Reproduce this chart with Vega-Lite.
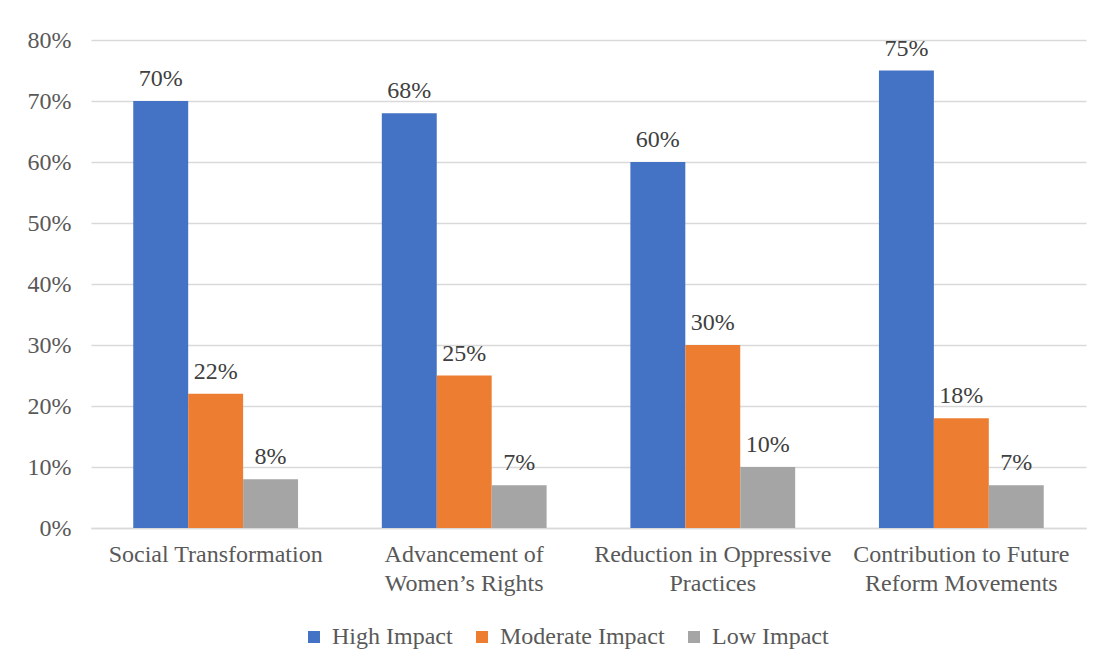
{
  "$schema": "https://vega.github.io/schema/vega-lite/v6.json",
  "autosize": {"type": "none"},
  "width": 995,
  "height": 488,
  "padding": {"left": 91, "top": 40, "right": 19, "bottom": 138},
  "background": "white",
  "config": {
    "view": {"stroke": null},
    "font": "Liberation Serif, Times New Roman, serif",
    "axis": {"labelFont": "Liberation Serif, Times New Roman, serif", "labelFontSize": 24, "labelColor": "#595959", "labelLimit": 0, "labelOverlap": false},
    "legend": {"labelFont": "Liberation Serif, Times New Roman, serif", "labelFontSize": 24, "labelColor": "#595959", "labelLimit": 0},
    "text": {"font": "Liberation Serif, Times New Roman, serif"}
  },
  "data": {
    "values": [
      {"category": "Social Transformation", "impact": "High Impact", "value": 0.70},
      {"category": "Social Transformation", "impact": "Moderate Impact", "value": 0.22},
      {"category": "Social Transformation", "impact": "Low Impact", "value": 0.08},
      {"category": "Advancement of Women’s Rights", "impact": "High Impact", "value": 0.68},
      {"category": "Advancement of Women’s Rights", "impact": "Moderate Impact", "value": 0.25},
      {"category": "Advancement of Women’s Rights", "impact": "Low Impact", "value": 0.07},
      {"category": "Reduction in Oppressive Practices", "impact": "High Impact", "value": 0.60},
      {"category": "Reduction in Oppressive Practices", "impact": "Moderate Impact", "value": 0.30},
      {"category": "Reduction in Oppressive Practices", "impact": "Low Impact", "value": 0.10},
      {"category": "Contribution to Future Reform Movements", "impact": "High Impact", "value": 0.75},
      {"category": "Contribution to Future Reform Movements", "impact": "Moderate Impact", "value": 0.18},
      {"category": "Contribution to Future Reform Movements", "impact": "Low Impact", "value": 0.07}
    ]
  },
  "encoding": {
    "x": {
      "field": "category",
      "type": "nominal",
      "sort": null,
      "scale": {"paddingInner": 0.337, "paddingOuter": 0.17},
      "axis": {
        "title": null,
        "labelAngle": 0,
        "ticks": false,
        "domainColor": "#D9D9D9",
        "domainWidth": 1.5,
        "labelPadding": 14,
        "labelLineHeight": 29,
        "labelExpr": "datum.value == 'Advancement of Women’s Rights' ? ['Advancement of', 'Women’s Rights'] : datum.value == 'Reduction in Oppressive Practices' ? ['Reduction in Oppressive', 'Practices'] : datum.value == 'Contribution to Future Reform Movements' ? ['Contribution to Future', 'Reform Movements'] : datum.value"
      }
    },
    "xOffset": {
      "field": "impact",
      "type": "nominal",
      "sort": ["High Impact", "Moderate Impact", "Low Impact"],
      "scale": {"paddingInner": 0, "paddingOuter": 0}
    },
    "y": {
      "field": "value",
      "type": "quantitative",
      "scale": {"domain": [0, 0.8]},
      "axis": {
        "title": null,
        "format": ".0%",
        "values": [0, 0.1, 0.2, 0.3, 0.4, 0.5, 0.6, 0.7, 0.8],
        "domain": false,
        "ticks": false,
        "labelPadding": 20,
        "gridColor": "#D9D9D9",
        "gridWidth": 1.5
      }
    }
  },
  "layer": [
    {
      "mark": {"type": "bar"},
      "encoding": {
        "color": {
          "field": "impact",
          "type": "nominal",
          "sort": ["High Impact", "Moderate Impact", "Low Impact"],
          "scale": {"domain": ["High Impact", "Moderate Impact", "Low Impact"], "range": ["#4472C4", "#ED7D31", "#A5A5A5"]},
          "legend": {
            "title": null,
            "orient": "none",
            "direction": "horizontal",
            "legendX": 211,
            "legendY": 585,
            "symbolType": "square",
            "symbolSize": 144,
            "symbolStrokeWidth": 0,
            "columnPadding": 17,
            "labelOffset": 6
          }
        }
      }
    },
    {
      "mark": {"type": "text", "baseline": "bottom", "dy": -10, "fontSize": 24, "color": "#404040"},
      "encoding": {
        "text": {"field": "value", "type": "quantitative", "format": ".0%"}
      }
    }
  ]
}
